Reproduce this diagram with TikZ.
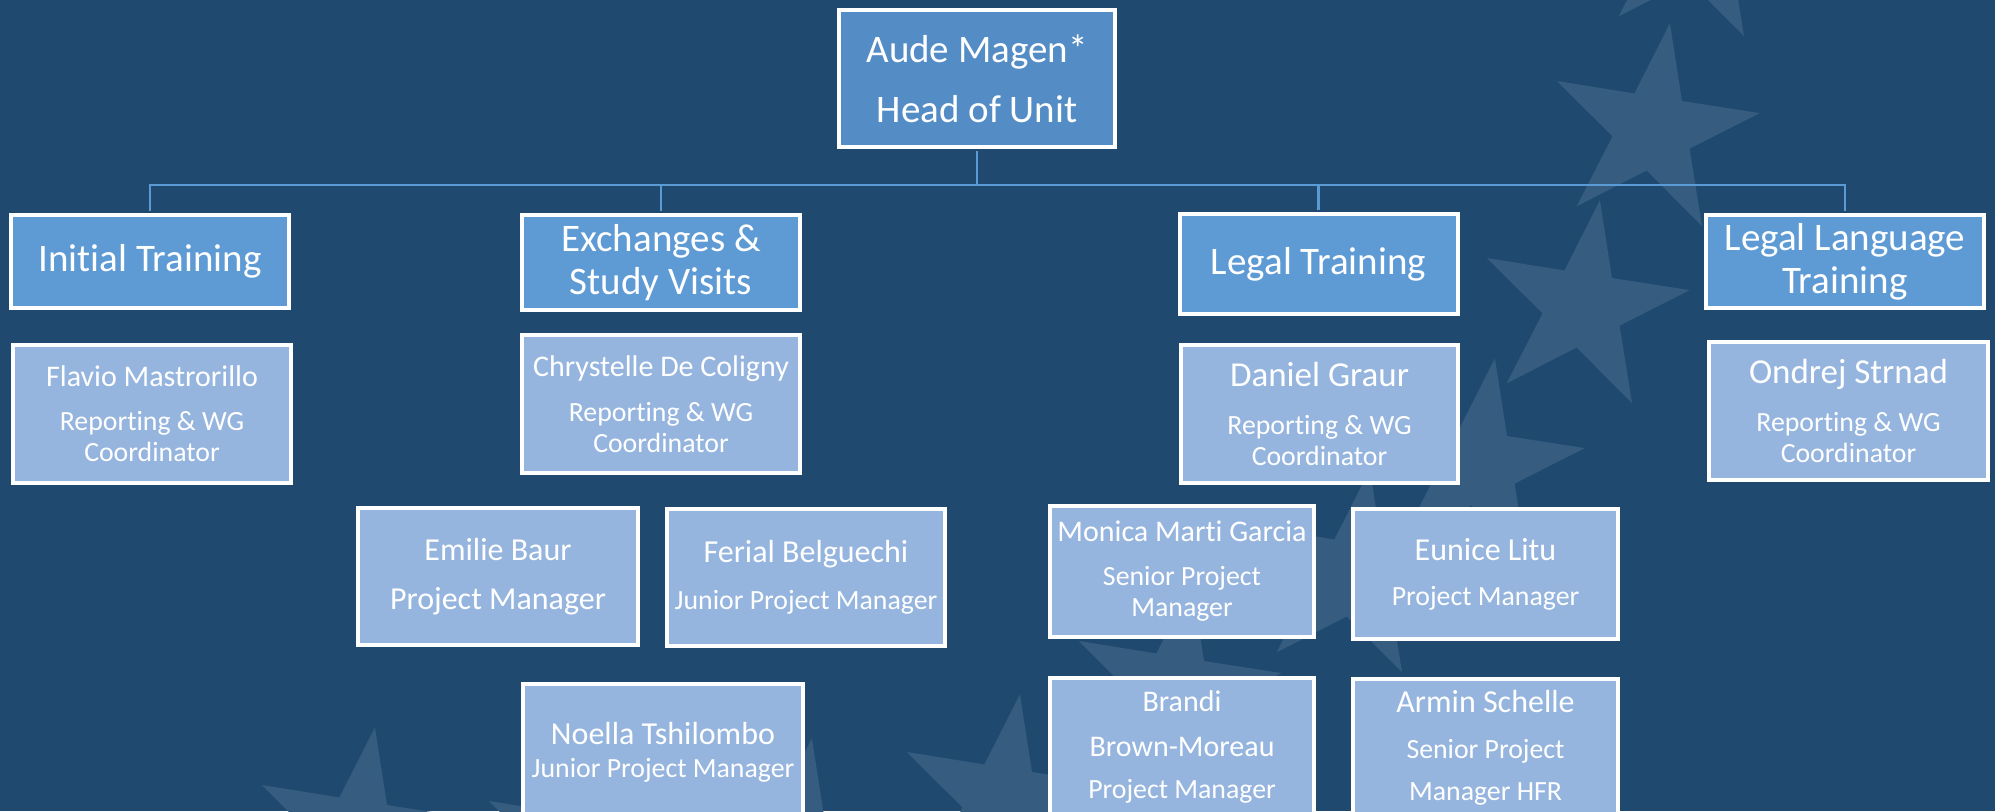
\documentclass[tikz,border=0pt]{standalone}
\usepackage{fontspec}
\setmainfont{Carlito}[RawFeature={-liga;-clig}]
\usetikzlibrary{positioning}

\definecolor{bgblue}{RGB}{31,73,111}
\definecolor{starblue}{RGB}{54,93,128}
\definecolor{headblue}{RGB}{84,141,198}
\definecolor{deptblue}{RGB}{94,155,213}
\definecolor{staffblue}{RGB}{149,181,223}
\definecolor{linkblue}{RGB}{91,155,213}

\newcommand{\pname}[2]{{\fontsize{#1}{#1}\selectfont #2}}

\begin{document}
\begin{tikzpicture}[x=0.5pt, y=-0.5pt,
  box/.style={draw=white, line width=2pt, inner sep=0pt, align=center, text=white},
  head/.style={box, fill=headblue, minimum width=138pt, minimum height=68.5pt,
    font=\fontsize{19.5}{30}\selectfont},
  dept/.style={box, fill=deptblue, minimum width=139pt,
    font=\fontsize{19.5}{21.5}\selectfont},
  staff/.style={box, fill=staffblue, font=\fontsize{13.9}{15.5}\selectfont},
  link/.style={draw=linkblue, line width=1.2pt, shorten <=1pt, shorten >=1pt}]

\clip (0,0) rectangle (1995,811);
\fill[bgblue] (0,0) rectangle (1995,811);

% stars in the background
\foreach \sx/\sy in {1695/-60, 1653/130, 1583/307, 1478/465, 1353/576,
                     1175/690, 1003/801, 795/845, 585/850, 358/834}
  \fill[starblue, shift={(\sx,\sy)}] (-81:108)
    \foreach \k in {1,...,9} { -- ({-81-36*\k}:{108-67*mod(\k,2)}) } -- cycle;

% head and units
\node[head] (head) at (977,78.5) {Aude Magen*\\Head of Unit};

\node[dept, minimum height=46.5pt] (init)  at (150,261.5)  {Initial Training};
\node[dept, minimum height=47.5pt] (exch)  at (661,262.5)  {Exchanges \&\\Study Visits};
\node[dept, minimum height=50pt]   (legal) at (1318.5,264) {Legal Training};
\node[dept, minimum height=46.5pt] (lang)  at (1845,261.5) {Legal Language\\Training};

\foreach \d in {init,exch,legal,lang}
  \draw[link] (head.south) -- ++(0,36) -| (\d.north);

% coordinators
\node[staff, minimum width=139pt, minimum height=69pt] (flavio) at (152,414)
  {\pname{15}{Flavio Mastrorillo}\\[6.5pt]Reporting \& WG\\Coordinator};
\node[staff, minimum width=139pt, minimum height=69pt] (chrys) at (661,404)
  {\pname{15}{Chrystelle De Coligny}\\[7pt]Reporting \& WG\\Coordinator};
\node[staff, minimum width=138.5pt, minimum height=69pt] (daniel) at (1319.5,414)
  {\pname{17.5}{Daniel Graur}\\[8.5pt]Reporting \& WG\\Coordinator};
\node[staff, minimum width=139.5pt, minimum height=69pt] (ondrej) at (1848.5,411)
  {\pname{17.5}{Ondrej Strnad}\\[8.5pt]Reporting \& WG\\Coordinator};

% exchanges team
\node[staff, minimum width=140pt, minimum height=68.5pt] (emilie) at (498,576.5)
  {\pname{16}{Emilie Baur}\\[9pt]\pname{16}{Project Manager}};
\node[staff, minimum width=139pt, minimum height=68.5pt] (ferial) at (806,577.5)
  {\pname{16}{Ferial Belguechi}\\[8pt]Junior Project Manager};
\node[staff, minimum width=140pt, minimum height=68.5pt] (noella) at (663,752.5)
  {\pname{16}{Noella Tshilombo}\\[1pt]Junior Project Manager};

% legal training team
\node[staff, minimum width=132pt, minimum height=65.5pt] (monica) at (1182,571.5)
  {\pname{15}{Monica Marti Garcia}\\[6.5pt]Senior Project\\Manager};
\node[staff, minimum width=132.5pt, minimum height=65pt] (eunice) at (1485.5,574)
  {\pname{16}{Eunice Litu}\\[7pt]Project Manager};
\node[staff, minimum width=132pt, minimum height=68.5pt] (brandi) at (1182,746.5)
  {\pname{15}{Brandi}\\[7pt]\pname{15}{Brown-Moreau}\\[5.5pt]Project Manager};
\node[staff, minimum width=132.5pt, minimum height=68.5pt] (armin) at (1485.5,747.5)
  {\pname{16}{Armin Schelle}\\[7.5pt]Senior Project\\[5.5pt]Manager HFR};

\end{tikzpicture}
\end{document}
